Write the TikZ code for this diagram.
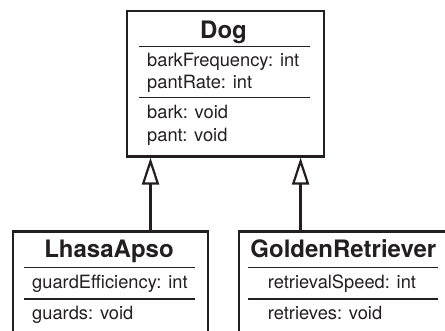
\documentclass[tikz,border=0pt]{standalone}
\usepackage{fontspec}
\setmainfont{TeX Gyre Heros}
\usetikzlibrary{arrows.meta,calc}
\definecolor{ink}{HTML}{231F20}
\begin{document}
\begin{tikzpicture}[x=1pt,y=-1pt,
  umlbox/.style={draw=ink, line width=2.6pt, fill=white, rectangle, inner sep=0pt, anchor=north west},
  sepline/.style={draw=ink, line width=1.1pt},
  ttl/.style={font=\fontsize{24}{24}\selectfont\bfseries, text=ink, inner sep=0pt, anchor=base},
  mem/.style={font=\fontsize{18.3}{18.3}\selectfont, text=ink, inner sep=0pt, anchor=base west},
  inh/.style={draw=ink, line width=2.6pt, -{Triangle[open, length=27pt, width=17pt, line width=2.2pt, fill=white]}}
]
\useasboundingbox[fill=white] (0,0) rectangle (445,331);

% Dog
\node[umlbox, minimum width=197pt, minimum height=145.3pt] (dog) at (125.5,9.7) {};
\node[ttl] (dogt) at (223.5,38.5) {Dog};
\draw[sepline] (139,46.7) -- (310,46.7);
\node[mem] (d1) at (147,66.5) {barkFrequency: int};
\node[mem] (d2) at (147,88.8) {pantRate: int};
\draw[sepline] (139,97.3) -- (310,97.3);
\node[mem] (d3) at (147,119) {bark: void};
\node[mem] (d4) at (147,141.5) {pant: void};

% LhasaApso
\node[umlbox, minimum width=195.2pt, minimum height=130pt] (lhasa) at (11.5,230.5) {};
\node[ttl] (lhasat) at (109,257.5) {LhasaApso};
\draw[sepline] (24,267.7) -- (195,267.7);
\node[mem] (l1) at (32,289) {guardEfficiency: int};
\draw[sepline] (24,299) -- (195,299);
\node[mem] (l2) at (32,320) {guards: void};

% GoldenRetriever
\node[umlbox, minimum width=211.5pt, minimum height=130pt] (golden) at (237.5,230.5) {};
\node[ttl] (goldent) at (343.3,257.5) {GoldenRetriever};
\draw[sepline] (248,267.7) -- (437.7,267.7);
\node[mem] (g1) at (267.7,289) {retrievalSpeed: int};
\draw[sepline] (248,299) -- (437.7,299);
\node[mem] (g2) at (267.7,320) {retrieves: void};

% generalisation connectors
\coordinate (tipL) at ($(dog.south west)+(25,0)$);
\coordinate (tipR) at ($(dog.south east)+(-24.5,0)$);
\draw[inh] (lhasa.north -| tipL) -- (tipL);
\draw[inh] (golden.north -| tipR) -- (tipR);
\end{tikzpicture}
\end{document}
